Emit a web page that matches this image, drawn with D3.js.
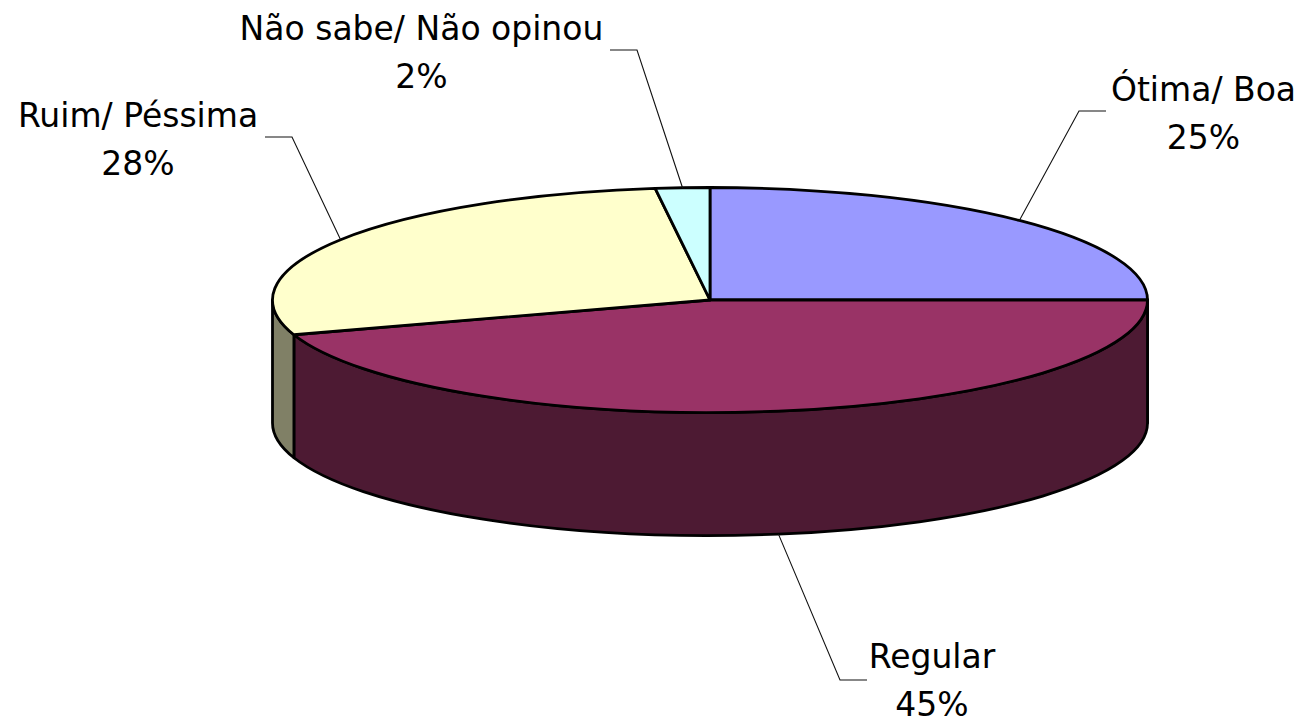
<!DOCTYPE html>
<html>
<head>
<meta charset="utf-8">
<script src="https://cdn.jsdelivr.net/npm/d3@7"></script>
<style>
  html, body { margin: 0; padding: 0; background: #ffffff; }
  svg { display: block; }
</style>
</head>
<body>
<svg id="chart" width="1303" height="722"></svg>
<script>
// ---- Data ----
const categories = ["Ótima/ Boa", "Regular", "Ruim/ Péssima", "Não sabe/ Não opinou"];
const values = [25, 45, 28, 2];
const percentLabels = ["25%", "45%", "28%", "2%"];
const topColors = ["#9999FF", "#993366", "#FFFFCC", "#CCFFFF"];
const sideColors = ["#4D4D80", "#4D1A33", "#808066", "#668080"];

// ---- Layout ----
const cx = 710, cy = 300, rx = 437.5, ry = 112.5, depth = 123;
const fontSize = 33, lineGap = 47.5;
const outlineW = 2.8;
// label text centre x / first baseline y, leader elbow and end
const labelLayout = [
  { tx: 1203.5, ty: 101, elbow: [1079, 111], end: [1106, 111] },
  { tx: 932,    ty: 668, elbow: [840, 680],  end: [867, 680] },
  { tx: 138,    ty: 127, elbow: [292, 137],  end: [265, 137] },
  { tx: 421.5,  ty: 40,  elbow: [637, 50],   end: [610, 50] }
];

const svg = d3.select("#chart");

const pie = d3.pie().sort(null).value(d => d)
  .startAngle(0).endAngle(2 * Math.PI);
const arcs = pie(values);

const P = (a, dy = 0) => [cx + rx * Math.sin(a), cy - ry * Math.cos(a) + dy];

// ---- Side walls (front half: angles PI/2 .. 3PI/2) ----
const sidesG = svg.append("g");
arcs.forEach((d, i) => {
  const s = Math.max(d.startAngle, Math.PI / 2);
  const e = Math.min(d.endAngle, 3 * Math.PI / 2);
  if (e <= s) return;
  const p0 = P(s), p1 = P(e), p2 = P(e, depth), p3 = P(s, depth);
  const large = (e - s) > Math.PI ? 1 : 0;
  const str = `M${p0[0]},${p0[1]} A${rx},${ry} 0 ${large} 1 ${p1[0]},${p1[1]} L${p2[0]},${p2[1]} A${rx},${ry} 0 ${large} 0 ${p3[0]},${p3[1]} Z`;
  sidesG.append("path")
    .attr("d", str)
    .attr("fill", sideColors[i])
    .attr("stroke", "#000")
    .attr("stroke-width", outlineW)
    .attr("stroke-linejoin", "round");
});

// ---- Top slices ----
const arcGen = d3.arc().innerRadius(0).outerRadius(rx);
const topG = svg.append("g")
  .attr("transform", `translate(${cx},${cy}) scale(1,${ry / rx})`);
topG.selectAll("path")
  .data(arcs)
  .join("path")
  .attr("d", arcGen)
  .attr("fill", (d, i) => topColors[i])
  .attr("stroke", "#000")
  .attr("stroke-width", outlineW)
  .attr("stroke-linejoin", "round")
  .attr("vector-effect", "non-scaling-stroke");

// ---- Leader lines ----
const lineGen = d3.line();
const leadersG = svg.append("g");
arcs.forEach((d, i) => {
  const mid = (d.startAngle + d.endAngle) / 2;
  const front = Math.cos(mid) < 0;
  const start = P(mid, front ? depth : 0);
  const L = labelLayout[i];
  leadersG.append("path")
    .attr("d", lineGen([start, L.elbow, L.end]))
    .attr("fill", "none")
    .attr("stroke", "#111")
    .attr("stroke-width", 1.1);
});

// ---- Labels ----
const labelsG = svg.append("g")
  .attr("font-family", "'DejaVu Sans', Verdana, sans-serif")
  .attr("font-size", fontSize)
  .attr("fill", "#000")
  .attr("text-anchor", "middle");
arcs.forEach((d, i) => {
  const L = labelLayout[i];
  labelsG.append("text").attr("x", L.tx).attr("y", L.ty).text(categories[i]);
  labelsG.append("text").attr("x", L.tx).attr("y", L.ty + lineGap).text(percentLabels[i]);
});
</script>
</body>
</html>
